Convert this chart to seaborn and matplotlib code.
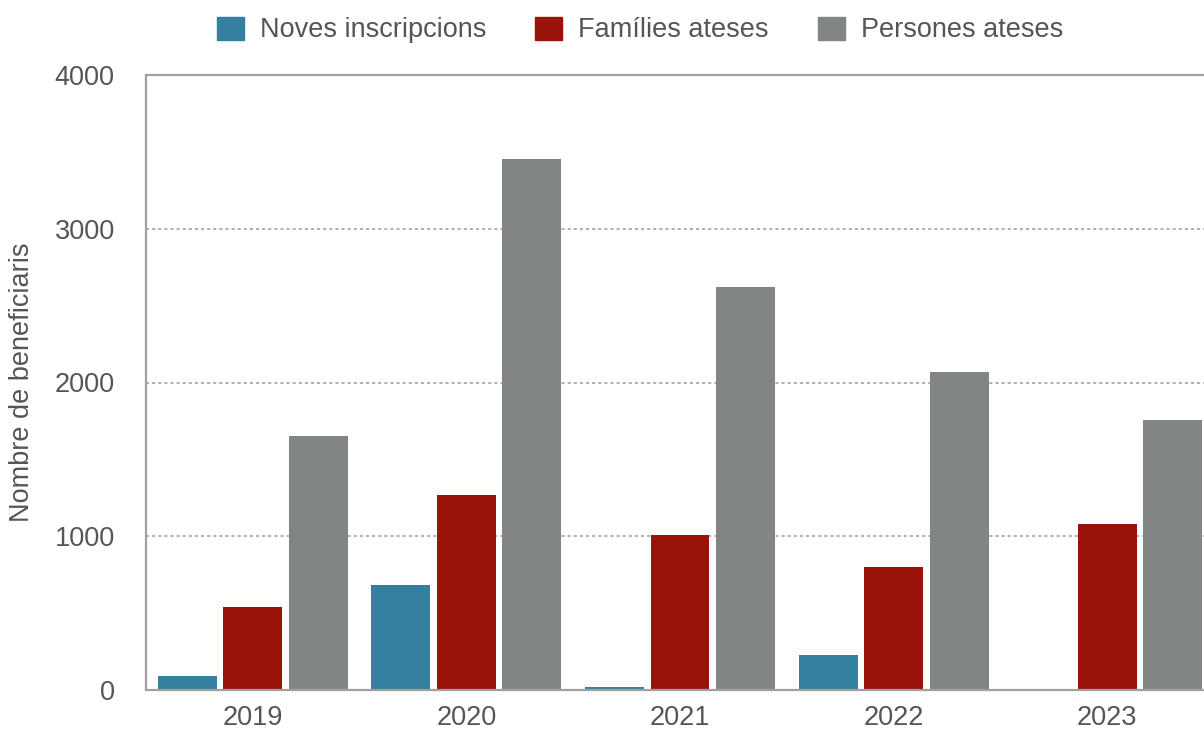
import matplotlib
matplotlib.use("Agg")
import matplotlib.pyplot as plt
import pandas as pd
import seaborn as sns

years = ["2019", "2020", "2021", "2022", "2023"]
series_names = ["Noves inscripcions", "Famílies ateses", "Persones ateses"]
noves_inscripcions = [90, 680, 20, 228, 0]
families_ateses = [540, 1268, 1008, 800, 1080]
persones_ateses = [1652, 3454, 2621, 2068, 1756]
colors = ["#357fa1", "#99130b", "#818683"]

data = pd.DataFrame({
    "Any": years * 3,
    "Serie": [s for s in series_names for _ in years],
    "Valor": noves_inscripcions + families_ateses + persones_ateses,
})

sns.set_style("white")
plt.rcParams["font.family"] = ["Liberation Sans", "DejaVu Sans"]
text_color = "#555555"

fig = plt.figure(figsize=(12.04, 7.31), dpi=100)
ax = fig.add_axes([146 / 1204, 41 / 731, 1068 / 1204, 615 / 731])

sns.barplot(data=data, x="Any", y="Valor", hue="Serie", hue_order=series_names,
            palette=colors, saturation=1, width=0.92, gap=0.10,
            errorbar=None, linewidth=0, ax=ax)

ax.set_xlim(-0.5, 4.5)
ax.set_ylim(0, 4000)
ax.set_yticks([0, 1000, 2000, 3000, 4000])
for y in [1000, 2000, 3000]:
    ax.axhline(y, color="#9a9a9a", linestyle=(0, (2, 2)), linewidth=1.1, zorder=0)

for side in ["left", "top", "bottom", "right"]:
    ax.spines[side].set_color("#a0a0a0")
    ax.spines[side].set_linewidth(1.6)

ax.tick_params(axis="y", length=0, pad=22.5, labelsize=19.5, labelcolor=text_color)
ax.tick_params(axis="x", length=0, pad=11, labelsize=19.5, labelcolor=text_color)
ax.set_xlabel("")
ax.set_ylabel("Nombre de beneficiaris", fontsize=19.5, color=text_color)
ax.yaxis.set_label_coords(-0.104, 0.5)

ax.get_legend().remove()
handles = [plt.Rectangle((0, 0), 1, 1, color=c) for c in colors]
leg = fig.legend(handles, series_names, loc="center", ncol=3,
                 bbox_to_anchor=(640 / 1204, 1 - 30 / 731), frameon=False,
                 fontsize=19.5, handlelength=1.0, handleheight=0.93,
                 handletextpad=0.6, columnspacing=1.8)
for t in leg.get_texts():
    t.set_color(text_color)

fig.savefig("out.png", dpi=100)
